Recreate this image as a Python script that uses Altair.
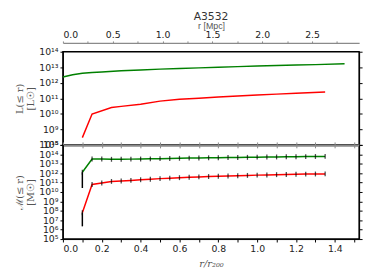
import altair as alt
import pandas as pd

# ---------------- data (log10 values) ----------------
R200_MPC = 1.949          # r200 in Mpc (top axis conversion)
XMAX = 1.525              # r/r200 range of the plots

lum_green_r = [0.0, 0.05, 0.1, 0.15, 0.2, 0.3, 0.4, 0.5, 0.6, 0.7, 0.8, 0.9, 1.0, 1.1, 1.2, 1.3, 1.45]
lum_green = [12.37, 12.52, 12.62, 12.66, 12.70, 12.77, 12.83, 12.88, 12.92, 12.96, 13.00, 13.04,
             13.08, 13.11, 13.14, 13.17, 13.22]

lum_red_r = [0.1, 0.15, 0.25, 0.3, 0.4, 0.5, 0.6, 0.7, 0.8, 0.9, 1.0, 1.1, 1.2, 1.35]
lum_red = [8.47, 9.99, 10.41, 10.48, 10.62, 10.82, 10.94, 11.01, 11.08, 11.15, 11.21, 11.27, 11.32, 11.40]

mass_r = [0.10, 0.15, 0.20, 0.25, 0.30, 0.35, 0.40, 0.45, 0.50, 0.55, 0.60, 0.65, 0.70,
          0.75, 0.80, 0.85, 0.90, 0.95, 1.00, 1.05, 1.10, 1.15, 1.20, 1.25, 1.30, 1.35]
mass_green = [12.10, 13.50, 13.50, 13.47, 13.48, 13.49, 13.50, 13.52, 13.54, 13.56, 13.58, 13.60, 13.61,
              13.63, 13.64, 13.66, 13.67, 13.68, 13.70, 13.71, 13.72, 13.74, 13.75, 13.76, 13.77, 13.78]
mass_red = [7.80, 10.80, 10.95, 11.12, 11.17, 11.23, 11.30, 11.36, 11.42, 11.47, 11.52, 11.56, 11.60,
            11.64, 11.67, 11.70, 11.73, 11.76, 11.79, 11.81, 11.84, 11.86, 11.88, 11.90, 11.91, 11.92]

err_r = [0.10]
err_green_lo = [10.42]
err_red_lo = [6.35]

GREEN = "#008000"
RED = "#ff0000"
GRAY = "#8a8a8a"
TITLE_GRAY = "#555555"

# ---------------- helpers ----------------
SUP = str.maketrans("0123456789", "⁰¹²³⁴⁵⁶⁷⁸⁹")


def sup_expr(lo, hi):
    e = "round(log(datum.value)/LN10)"
    expr = "''"
    for k in range(lo, hi + 1):
        expr = f"({e}=={k}?'10{str(k).translate(SUP)}':{expr})"
    return expr


lum_df = pd.concat([
    pd.DataFrame({"r": lum_green_r, "lg": lum_green, "s": "g"}),
    pd.DataFrame({"r": lum_red_r, "lg": lum_red, "s": "r"}),
])
mass_df = pd.concat([
    pd.DataFrame({"r": mass_r, "lg": mass_green, "s": "g"}),
    pd.DataFrame({"r": mass_r, "lg": mass_red, "s": "r"}),
])
err_df = pd.concat([
    pd.DataFrame({"r": err_r, "lo": err_green_lo, "hi": [mass_green[0]]}),
    pd.DataFrame({"r": err_r, "lo": err_red_lo, "hi": [mass_red[0]]}),
])

xscale = alt.Scale(domain=[0, XMAX], nice=False, zero=False)
xvals = [round(i * 0.1, 1) for i in range(16)]

W = 302
H_TOP = 95
H_BOT = 96

# ---------------- top panel ----------------
ytop_scale = alt.Scale(type="log", domain=[1e8, 1e14], nice=False)
ytop_vals = [10.0 ** k for k in range(8, 15)]

top_x_axis = alt.Axis(values=xvals, labels=False, title=None, grid=False,
                      domainColor=GRAY, domainWidth=2, tickColor=GRAY, tickSize=3)

base_top = alt.Chart(lum_df).transform_calculate(y="pow(10, datum.lg)")

top_green = base_top.transform_filter("datum.s == 'g'").mark_line(color=GREEN, strokeWidth=1.5).encode(
    x=alt.X("r:Q", scale=xscale, axis=top_x_axis),
    y=alt.Y("y:Q", scale=ytop_scale,
            axis=alt.Axis(values=ytop_vals, labelExpr=sup_expr(8, 14), title=["L(≤ r)", "[L☉]"],
                          grid=False, tickSize=3, domainColor="black", tickColor="black",
                          titleColor=TITLE_GRAY, titleFont="DejaVu Serif", titleFontSize=10,
                          titlePadding=3)),
)
top_red = base_top.transform_filter("datum.s == 'r'").mark_line(color=RED, strokeWidth=1.5).encode(
    x=alt.X("r:Q", scale=xscale, axis=None),
    y=alt.Y("y:Q", scale=ytop_scale,
            axis=alt.Axis(orient="right", values=ytop_vals, labels=False, title=None, grid=False,
                          tickSize=3, domainColor="black", tickColor="black")),
)
mpc_vals = [i * 0.25 for i in range(12)]
top_mpc = base_top.transform_calculate(mpc=f"datum.r * {R200_MPC}").mark_point(opacity=0).encode(
    x=alt.X("mpc:Q", scale=alt.Scale(domain=[0, XMAX * R200_MPC], nice=False, zero=False),
            axis=alt.Axis(orient="top", offset=9, values=mpc_vals,
                          labelExpr="round(datum.value*4) % 2 == 0 ? format(datum.value, '.1f') : ''",
                          title="r [Mpc]", titleColor=TITLE_GRAY, titleFontSize=9, titlePadding=0,
                          grid=False, domainColor=GRAY, domainWidth=1.5, tickColor=GRAY, tickSize=2,
                          labelPadding=1)),
    y=alt.Y("y:Q", scale=ytop_scale, axis=None),
)

top = alt.layer(top_green, top_red, top_mpc).resolve_scale(x="independent").resolve_axis(
    x="independent", y="independent").properties(
    width=W, height=H_TOP,
    title=alt.TitleParams("A3532", fontSize=11, fontWeight="normal", color="#333333", offset=-1),
)

# ---------------- bottom panel ----------------
ybot_scale = alt.Scale(type="log", domain=[1e5, 1e15], nice=False)
ybot_vals = [10.0 ** k for k in range(5, 16)]

bot_x_axis = alt.Axis(values=xvals,
                      labelExpr="round(datum.value*10) % 2 == 0 ? format(datum.value, '.1f') : ''",
                      title="r/r₂₀₀", titleColor=TITLE_GRAY, titleFont="DejaVu Serif",
                      titleFontStyle="italic", titleFontWeight="normal", titleFontSize=10,
                      grid=False, tickSize=3, domainColor="black", tickColor="black", labelPadding=2,
                      titlePadding=5)

base_bot = alt.Chart(mass_df).transform_calculate(y="pow(10, datum.lg)")

bot_green = base_bot.transform_filter("datum.s == 'g'").mark_line(color=GREEN, strokeWidth=1.5).encode(
    x=alt.X("r:Q", scale=xscale, axis=bot_x_axis),
    y=alt.Y("y:Q", scale=ybot_scale,
            axis=alt.Axis(values=ybot_vals, labelExpr=sup_expr(5, 15), title=["ℳ(≤ r)", "[M☉]"],
                          grid=False, tickSize=3, domainColor="black", tickColor="black",
                          titleColor=TITLE_GRAY, titleFont="DejaVu Serif", titleFontSize=10,
                          titlePadding=3)),
)
bot_red = base_bot.transform_filter("datum.s == 'r'").mark_line(color=RED, strokeWidth=1.5).encode(
    x=alt.X("r:Q", scale=xscale, axis=None),
    y=alt.Y("y:Q", scale=ybot_scale,
            axis=alt.Axis(orient="right", values=ybot_vals, labels=False, title=None, grid=False,
                          tickSize=3, domainColor="black", tickColor="black")),
)
bot_ticks = base_bot.mark_tick(orient="vertical", color="black", size=5, thickness=1.3).encode(
    x=alt.X("r:Q", scale=xscale, axis=None),
    y=alt.Y("y:Q", scale=ybot_scale, axis=None),
)
bot_top_axis = base_bot.mark_point(opacity=0).encode(
    x=alt.X("r:Q", scale=xscale,
            axis=alt.Axis(orient="top", values=xvals, labels=False, title=None, grid=False,
                          domainColor=GRAY, domainWidth=2, tickColor=GRAY, tickSize=3)),
    y=alt.Y("y:Q", scale=ybot_scale, axis=None),
)
bot_err = alt.Chart(err_df).transform_calculate(
    ylo="pow(10, datum.lo)", yhi="pow(10, datum.hi)"
).mark_rule(color="black", strokeWidth=1.5).encode(
    x=alt.X("r:Q", scale=xscale, axis=None),
    y=alt.Y("ylo:Q", scale=ybot_scale, axis=None),
    y2="yhi:Q",
)

bottom = alt.layer(bot_green, bot_red, bot_err, bot_ticks, bot_top_axis).resolve_axis(
    x="independent", y="independent").properties(width=W, height=H_BOT)

chart = alt.vconcat(top, bottom, spacing=0, bounds="flush").configure_view(
    stroke="black", strokeWidth=1.5
).configure_axis(
    labelFont="DejaVu Sans", labelFontSize=9.5, labelColor="#222222", titleFontWeight="normal"
).configure_title(font="DejaVu Sans").properties(padding={"left": 5, "top": 0, "right": 2, "bottom": 0})

chart.save("out.html", embed_options={"renderer": "svg", "actions": False})
